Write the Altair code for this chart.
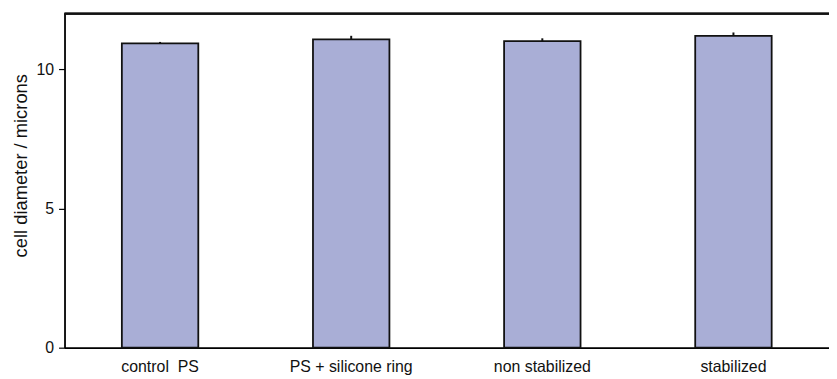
import altair as alt
import pandas as pd

categories = ["control\u00a0 PS", "PS + silicone ring", "non stabilized", "stabilized"]
values = [10.93, 11.07, 11.01, 11.2]
errors = [0.05, 0.13, 0.10, 0.12]

df = pd.DataFrame({"cat": categories, "val": values, "err": errors})
df["hi"] = df["val"] + df["err"]

W, H = 771, 337
FONT = "Liberation Sans"

x = alt.X("cat:N", sort=categories,
          scale=alt.Scale(paddingInner=0.6, paddingOuter=0.3),
          axis=alt.Axis(title=None, ticks=False, labelPadding=11, labelAngle=0,
                        domainColor="black", domainWidth=1.8, labelFontSize=16,
                        labelColor="#111"))
y = alt.Y("val:Q", scale=alt.Scale(domain=[0, 12], nice=False),
          axis=alt.Axis(title="cell diameter / microns", values=[0, 5, 10],
                        grid=False, tickSize=6, tickColor="black", tickWidth=1.2,
                        domainColor="black", domainWidth=1.8, labelFontSize=16,
                        labelColor="#111", titleFontSize=18.5, titleFontWeight="normal",
                        titleColor="#111", titlePadding=6, titleY=153, labelPadding=5))

bars = alt.Chart(df).mark_bar(color="#A9AED6", stroke="#111", strokeWidth=1.8).encode(x=x, y=y)
err = alt.Chart(df).mark_rule(color="#111", strokeWidth=2).encode(
    x=alt.X("cat:N", sort=categories), y="val:Q", y2="hi:Q")
top = alt.Chart(df).mark_rule(color="#111", strokeWidth=1.8).encode(
    x=alt.value(0), x2=alt.value(W), y=alt.value(0))

chart = alt.layer(bars, err, top).properties(
    width=W, height=H,
    autosize=alt.AutoSizeParams(type="none"),
    padding={"left": 57, "top": 4, "right": 0, "bottom": 30},
).configure_view(stroke=None).configure(font=FONT)

chart.save("out.html", embed_options={"renderer": "svg", "actions": False})
